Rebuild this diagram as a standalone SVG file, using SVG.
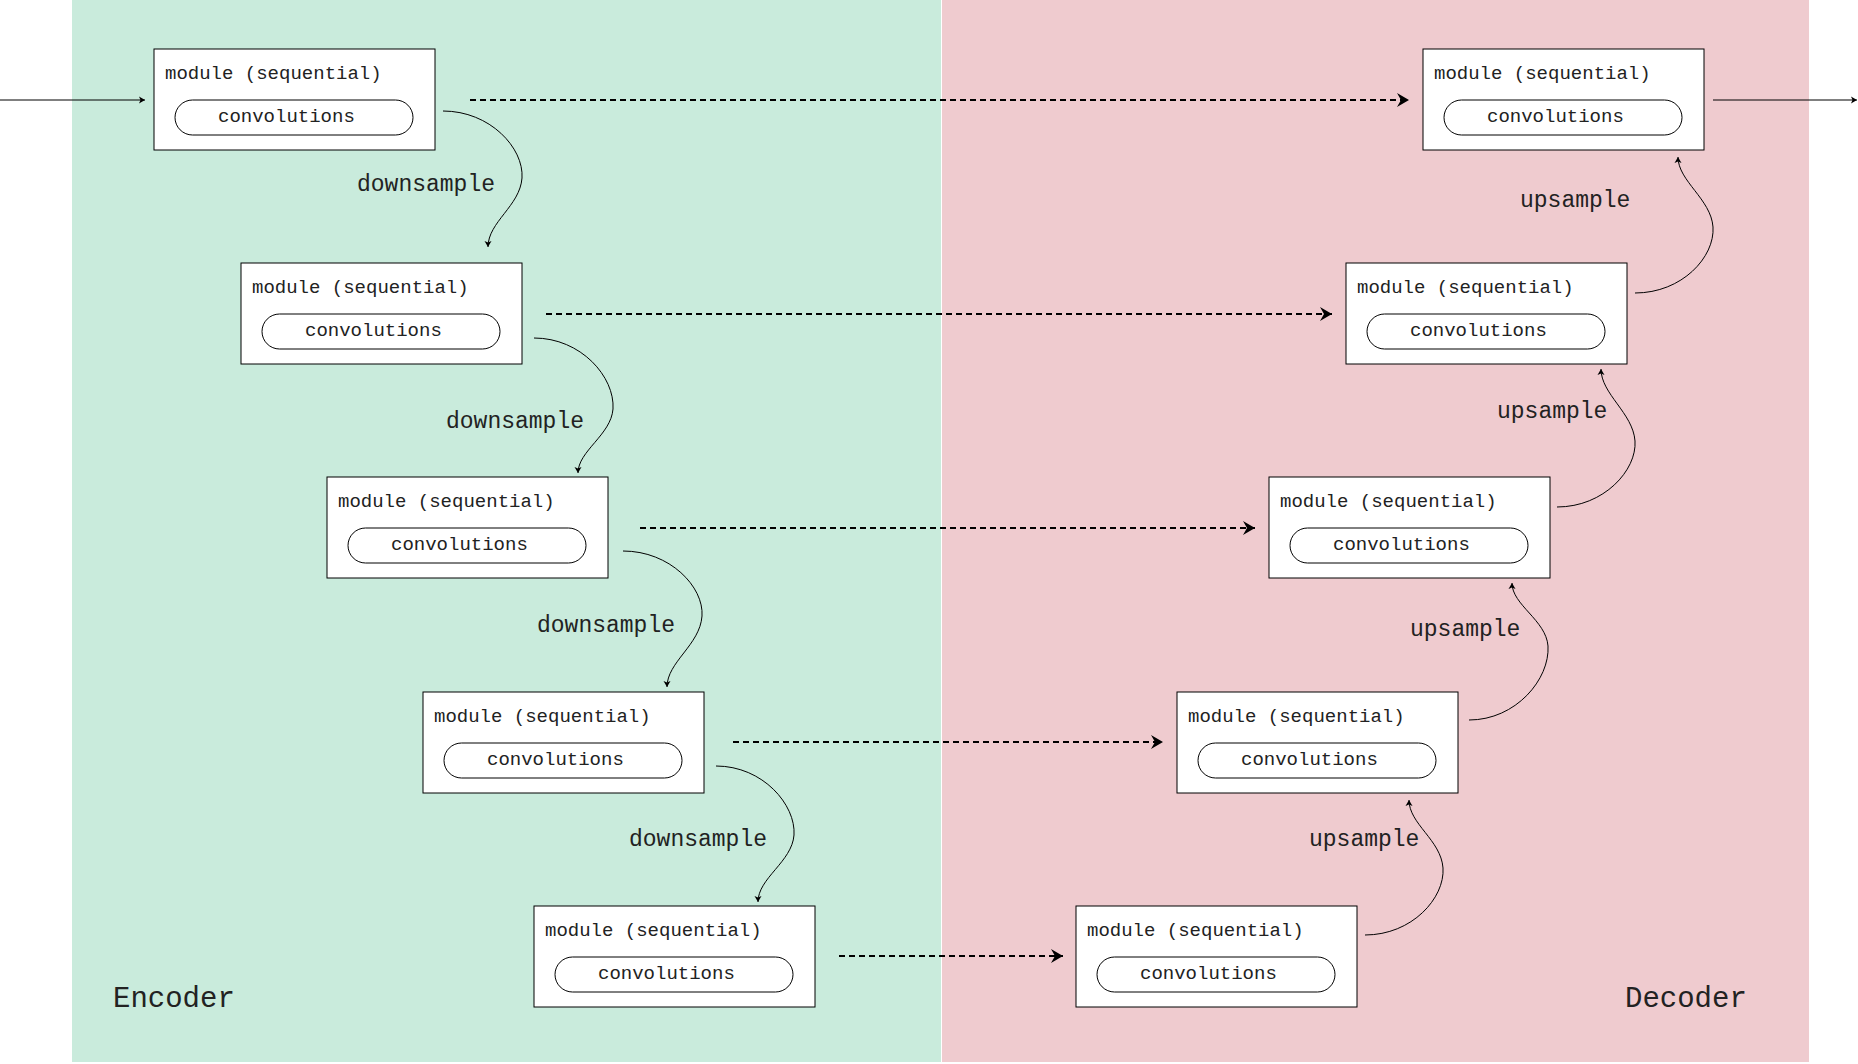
<svg xmlns="http://www.w3.org/2000/svg" width="1858" height="1064" viewBox="0 0 1858 1064">
<defs>
<style>
.box{fill:#fff;stroke:#000;stroke-width:1}
.pill{fill:#fff;stroke:#000;stroke-width:1}
.t{font-family:"Liberation Mono","Courier New",monospace;fill:#222}
.mod{font-size:19px}
.conv{font-size:19px}
.lbl{font-size:23px}
.big{font-size:29px}
.skip{fill:none;stroke:#000;stroke-width:2;stroke-dasharray:6 4}
.curve{fill:none;stroke:#000;stroke-width:1}
.io{fill:none;stroke:#000;stroke-width:1}
</style>
<marker id="stealth" markerUnits="userSpaceOnUse" markerWidth="16" markerHeight="16" viewBox="-14 -8 16 16" refX="0" refY="0" orient="auto">
<path d="M0,0 L-12,-7 L-8,0 L-12,7 z" fill="#000"/>
</marker>
<marker id="small" markerUnits="userSpaceOnUse" markerWidth="10" markerHeight="10" viewBox="-8 -5 10 10" refX="0" refY="0" orient="auto">
<path d="M0,0 L-6,-3.5 L-4.5,0 L-6,3.5 z" fill="#000"/>
</marker>
<symbol id="mod" overflow="visible">
<rect class="box" x="0" y="0" width="281" height="101"/>
<text class="t mod" x="11" y="30">module (sequential)</text>
<rect class="pill" x="21" y="51" width="238" height="35" rx="17.5" ry="17.5"/>
<text class="t conv" x="64" y="73">convolutions</text>
</symbol>
</defs>

<g id="backgrounds">
<rect x="72" y="0" width="869" height="1062" fill="#c9ebdc"/>
<rect x="942" y="0" width="867" height="1062" fill="#efcbcf"/>
<text class="t big" x="113" y="1007">Encoder</text>
<text class="t big" x="1625" y="1007">Decoder</text>
</g>

<g id="encoder1"><use href="#mod" x="154" y="49"/></g>
<g id="encoder2"><use href="#mod" x="241" y="263"/></g>
<g id="encoder3"><use href="#mod" x="327" y="477"/></g>
<g id="encoder4"><use href="#mod" x="423" y="692"/></g>
<g id="encoder5"><use href="#mod" x="534" y="906"/></g>

<g id="decoder1"><use href="#mod" x="1423" y="49"/></g>
<g id="decoder2"><use href="#mod" x="1346" y="263"/></g>
<g id="decoder3"><use href="#mod" x="1269" y="477"/></g>
<g id="decoder4"><use href="#mod" x="1177" y="692"/></g>
<g id="decoder5"><use href="#mod" x="1076" y="906"/></g>

<g id="connectors">
<path class="io" d="M0,100 H145" marker-end="url(#small)"/>
<path class="io" d="M1713,100 H1857" marker-end="url(#small)"/>

<path class="skip" d="M470,100 H1409" marker-end="url(#stealth)"/>
<path class="skip" d="M546,314 H1332" marker-end="url(#stealth)"/>
<path class="skip" d="M640,528 H1255" marker-end="url(#stealth)"/>
<path class="skip" d="M733,742 H1163" marker-end="url(#stealth)"/>
<path class="skip" d="M839,956 H1063" marker-end="url(#stealth)"/>

<path class="curve" d="M443,111 C490,111 524,148 522,178 C520,206 488,222 488,247" marker-end="url(#small)"/>
<path class="curve" d="M534,338 C581,338 615,377 613,409 C611,435 578,451 578,473" marker-end="url(#small)"/>
<path class="curve" d="M623,551 C670,551 704,587 702,616 C700,645 667,662 667,687" marker-end="url(#small)"/>
<path class="curve" d="M716,766 C763,766 796,805 794,835 C792,862 758,878 758,902" marker-end="url(#small)"/>

<path class="curve" d="M1365,935 C1412,935 1445,898 1443,868 C1441,840 1409,824 1409,800" marker-end="url(#small)"/>
<path class="curve" d="M1469,720 C1516,720 1550,679 1548,646 C1546,620 1512,605 1512,583" marker-end="url(#small)"/>
<path class="curve" d="M1557,507 C1604,507 1637,470 1635,441 C1633,413 1601,394 1601,369" marker-end="url(#small)"/>
<path class="curve" d="M1635,293 C1682,293 1715,257 1713,227 C1711,199 1678,181 1678,157" marker-end="url(#small)"/>

<text class="t lbl" x="357" y="191">downsample</text>
<text class="t lbl" x="446" y="428">downsample</text>
<text class="t lbl" x="537" y="632">downsample</text>
<text class="t lbl" x="629" y="846">downsample</text>
<text class="t lbl" x="1520" y="207">upsample</text>
<text class="t lbl" x="1497" y="418">upsample</text>
<text class="t lbl" x="1410" y="636">upsample</text>
<text class="t lbl" x="1309" y="846">upsample</text>
</g>
</svg>
